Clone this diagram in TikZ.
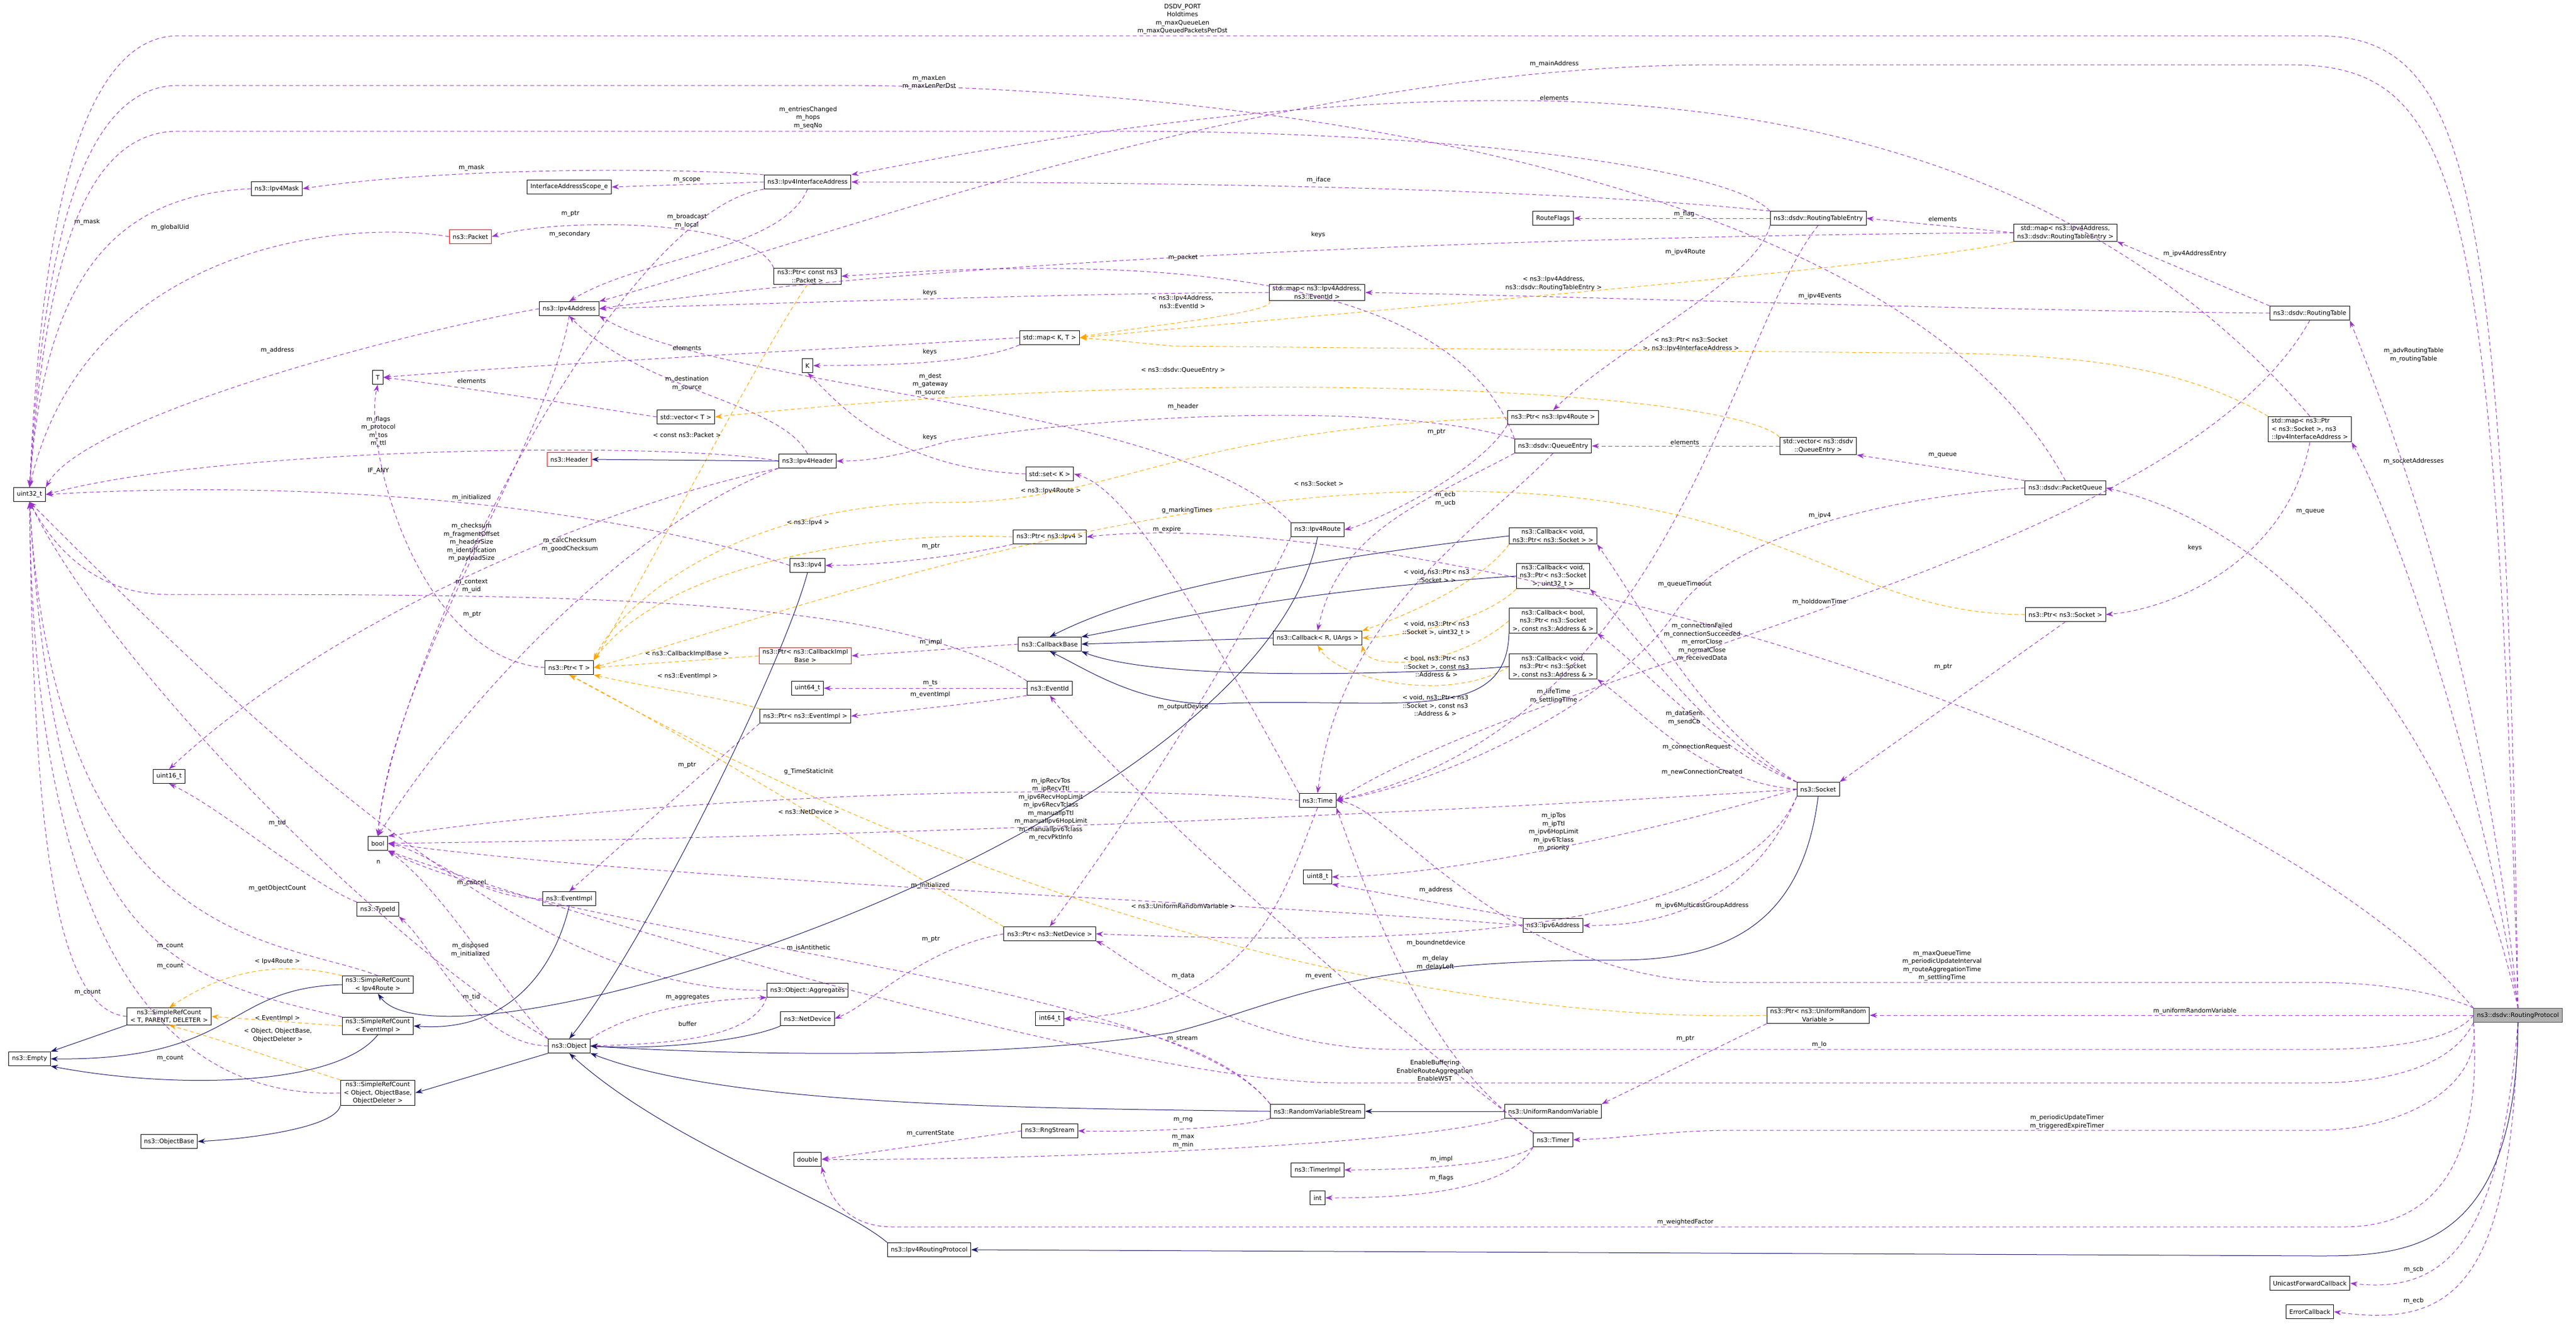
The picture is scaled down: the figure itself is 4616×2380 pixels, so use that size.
\documentclass[tikz,border=0pt]{standalone}
\usepackage{fontspec}
\setmainfont{DejaVu Sans}
\usetikzlibrary{arrows.meta}
\definecolor{ucol}{HTML}{9A32CD}
\definecolor{icol}{HTML}{FFA500}
\definecolor{hcol}{HTML}{191970}
\newcommand{\nf}{\fontsize{11}{14.5}\selectfont}
\tikzset{
 cls/.style={draw=black,fill=white,font=\nf,align=center,inner xsep=6pt,inner ysep=3pt,minimum height=25pt,line width=1pt},
 redcls/.style={cls,draw=red},
 mem/.style={draw=ucol,dash pattern=on 7pt off 5pt,line width=1pt,-{Stealth[length=13pt,width=9pt]},ucol},
 inst/.style={draw=icol,dash pattern=on 7pt off 5pt,line width=1pt,-{Stealth[length=13pt,width=9pt]},icol},
 inh/.style={draw=hcol,line width=1pt,-{Stealth[length=13pt,width=9pt]},hcol},
 lbl/.style={font=\nf,align=center,inner sep=0pt}
}
\begin{document}
\begin{tikzpicture}[x=1pt,y=-1pt]
\useasboundingbox (0,0) rectangle (4616,2380);
% nodes
\node[cls] (uint) at (53,886) {uint32\_t};
\node[cls] (mask) at (496,338) {ns3::Ipv4Mask};
\node[cls] (scope) at (1020,335) {InterfaceAddressScope\_e};
\node[cls] (ifaddr) at (1447,326) {ns3::Ipv4InterfaceAddress};
\node[redcls] (packet) at (843,424) {ns3::Packet};
\node[cls] (ptrpkt) at (1447,495) {ns3::Ptr< const ns3\\::Packet >};
\node[cls] (addr) at (1020,553) {ns3::Ipv4Address};
\node[cls] (T) at (677,676) {T};
\node[cls] (K) at (1447,655) {K};
\node[cls] (vecT) at (1229,747) {std::vector< T >};
\node[redcls] (header) at (1020,823) {ns3::Header};
\node[cls] (ipv4hdr) at (1447,826) {ns3::Ipv4Header};
\node[cls] (ipv4) at (1447,1013) {ns3::Ipv4};
\node[cls] (ptrT) at (1020,1196) {ns3::Ptr< T >};
\node[redcls] (ptrcib) at (1443,1175) {ns3::Ptr< ns3::CallbackImpl\\Base >};
\node[cls] (flags) at (2783,391) {RouteFlags};
\node[cls] (mapev) at (2360,524) {std::map< ns3::Ipv4Address,\\ns3::EventId >};
\node[cls] (mapKT) at (1881,605) {std::map< K, T >};
\node[cls] (ptrroute) at (2783,748) {ns3::Ptr< ns3::Ipv4Route >};
\node[cls] (qentry) at (2783,799) {ns3::dsdv::QueueEntry};
\node[cls] (setK) at (1881,849) {std::set< K >};
\node[cls] (ptripv4) at (1881,962) {ns3::Ptr< ns3::Ipv4 >};
\node[cls] (route) at (2361,949) {ns3::Ipv4Route};
\node[cls] (cb1) at (2783,960) {ns3::Callback< void,\\ ns3::Ptr< ns3::Socket > >};
\node[cls] (cb2) at (2783,1032) {ns3::Callback< void,\\ns3::Ptr< ns3::Socket\\>, uint32\_t >};
\node[cls] (cb3) at (2783,1112) {ns3::Callback< bool,\\ns3::Ptr< ns3::Socket\\>, const ns3::Address \& >};
\node[cls] (cb4) at (2783,1194) {ns3::Callback< void,\\ns3::Ptr< ns3::Socket\\>, const ns3::Address \& >};
\node[cls] (cbbase) at (1881,1154) {ns3::CallbackBase};
\node[cls] (cbR) at (2361,1143) {ns3::Callback< R, UArgs >};
\node[cls] (rte) at (3258,391) {ns3::dsdv::RoutingTableEntry};
\node[cls] (maprte) at (3701,417) {std::map< ns3::Ipv4Address,\\ ns3::dsdv::RoutingTableEntry >};
\node[cls] (rtable) at (4139,561) {ns3::dsdv::RoutingTable};
\node[cls,align=left] (mapsock) at (4139,769) {std::map< ns3::Ptr\\< ns3::Socket >, ns3\\::Ipv4InterfaceAddress >};
\node[cls] (vecq) at (3258,799) {std::vector< ns3::dsdv\\::QueueEntry >};
\node[cls] (pq) at (3701,874) {ns3::dsdv::PacketQueue};
\node[cls] (ptrsock) at (3701,1101) {ns3::Ptr< ns3::Socket >};
\node[cls] (u64) at (1447,1233) {uint64\_t};
\node[cls] (ptrev) at (1443,1283) {ns3::Ptr< ns3::EventImpl >};
\node[cls] (u16) at (303,1391) {uint16\_t};
\node[cls] (bool) at (677,1511) {bool};
\node[cls] (evimpl) at (1020,1610) {ns3::EventImpl};
\node[cls] (typeid) at (677,1629) {ns3::TypeId};
\node[cls] (srcroute) at (677,1764) {ns3::SimpleRefCount\\< Ipv4Route >};
\node[cls] (srcT) at (303,1821) {ns3::SimpleRefCount\\< T, PARENT, DELETER >};
\node[cls] (srcev) at (677,1838) {ns3::SimpleRefCount\\< EventImpl >};
\node[cls] (empty) at (53,1897) {ns3::Empty};
\node[cls] (object) at (1020,1874) {ns3::Object};
\node[cls] (aggr) at (1447,1774) {ns3::Object::Aggregates};
\node[cls] (netdev) at (1447,1825) {ns3::NetDevice};
\node[cls] (srcobj) at (677,1958) {ns3::SimpleRefCount\\< Object, ObjectBase,\\ObjectDeleter >};
\node[cls] (objbase) at (303,2045) {ns3::ObjectBase};
\node[cls] (double) at (1447,2077) {double};
\node[cls] (evid) at (1881,1233) {ns3::EventId};
\node[cls] (time) at (2361,1434) {ns3::Time};
\node[cls] (u8) at (2361,1571) {uint8\_t};
\node[cls] (ipv6) at (2783,1658) {ns3::Ipv6Address};
\node[cls] (ptrnd) at (1881,1673) {ns3::Ptr< ns3::NetDevice >};
\node[cls] (i64) at (1881,1825) {int64\_t};
\node[cls] (rvs) at (2361,1991) {ns3::RandomVariableStream};
\node[cls] (urv) at (2783,1991) {ns3::UniformRandomVariable};
\node[cls] (rng) at (1881,2026) {ns3::RngStream};
\node[cls] (timer) at (2783,2042) {ns3::Timer};
\node[cls] (timerimpl) at (2361,2096) {ns3::TimerImpl};
\node[cls] (int) at (2361,2146) {int};
\node[cls] (ipv4rp) at (1665,2239) {ns3::Ipv4RoutingProtocol};
\node[cls] (socket) at (3258,1414) {ns3::Socket};
\node[cls] (ptrurv) at (3258,1819) {ns3::Ptr< ns3::UniformRandom\\Variable >};
\node[cls,fill=black!30,draw=black!70] (rp) at (4512,1819) {ns3::dsdv::RoutingProtocol};
\node[cls] (ufcb) at (4139,2299) {UnicastForwardCallback};
\node[cls] (errcb) at (4139,2350) {ErrorCallback};
% member edges
\draw[mem] (rp.north) .. controls (4490,300) and (4420,64) .. (4150,64) -- (320,64) .. controls (120,64) and (70,500) .. (uint.north);
\draw[mem] (pq.north) .. controls (3400,300) and (2200,153) .. (1500,153) -- (320,153) .. controls (130,153) and (75,500) .. (uint.north);
\draw[mem] (rte.north west) .. controls (3100,300) and (2600,235) .. (2000,235) -- (320,235) .. controls (140,235) and (80,500) .. (uint.north);
\draw[mem] (rp.north) .. controls (4470,300) and (4400,116) .. (4100,116) -- (3080,116) .. controls (2300,116) and (1500,420) .. (addr.north east);
\draw[mem] (mapsock.north) .. controls (3800,350) and (3300,180) .. (2700,180) .. controls (2200,180) and (1700,280) .. (ifaddr.north east);
\draw[mem] (rte.north west) .. controls (2900,350) and (2400,326) .. (ifaddr.east);
\draw[mem] (rte.west) -- (flags.east);
\draw[mem] (maprte.west) .. controls (3000,420) and (1800,450) .. (addr.east);
\draw[mem] (maprte.west) -- (rte.east);
\draw[mem] (qentry.north west) .. controls (2600,470) and (2000,460) .. (ptrpkt.east);
\draw[mem] (mapev.west) .. controls (2000,524) and (1500,540) .. (addr.east);
\draw[mem] (mapKT.west) .. controls (1500,625) and (1000,650) .. (T.east);
\draw[mem] (mapKT.south west) .. controls (1750,650) and (1600,655) .. (K.east);
\draw[mem] (qentry.north west) .. controls (2500,720) and (2000,740) .. (1700,790) .. controls (1600,820) and (1550,826) .. (ipv4hdr.east);
\draw[mem] (setK.west) .. controls (1600,840) and (1500,720) .. (K.south);
\draw[mem] (vecT.west) .. controls (1000,720) and (800,690) .. (T.east);
\draw[mem] (ipv4hdr.north) .. controls (1400,720) and (1150,700) .. (addr.south);
\draw[mem] (route.north west) .. controls (2100,720) and (1300,700) .. (addr.south east);
\draw[mem] (ipv4hdr.west) .. controls (1200,790) and (400,800) .. (uint.east);
\draw[mem] (ipv4.west) .. controls (1200,940) and (700,850) .. (uint.east);
\draw[mem] (ipv4hdr.south west) .. controls (1100,950) and (800,1300) .. (bool.north);
\draw[mem] (ipv4hdr.south west) .. controls (1100,900) and (600,1100) .. (u16.north);
\draw[mem] (ifaddr.south) .. controls (1400,450) and (1150,460) .. (addr.north);
\draw[mem] (ifaddr.north west) .. controls (1200,300) and (800,300) .. (mask.east);
\draw[mem] (mask.west) .. controls (200,350) and (80,500) .. (uint.north);
\draw[mem] (packet.west) .. controls (600,390) and (150,450) .. (uint.north);
\draw[mem] (ifaddr.west) -- (scope.east);
\draw[mem] (ifaddr.south west) .. controls (1100,380) and (700,1200) .. (bool.north);
\draw[mem] (ptrpkt.north west) .. controls (1350,390) and (1000,390) .. (packet.east);
\draw[mem] (addr.west) .. controls (700,600) and (150,750) .. (uint.north east);
\draw[mem] (addr.south) .. controls (980,800) and (700,1200) .. (bool.north);
\draw[mem] (ptrT.west) .. controls (750,1180) and (650,800) .. (T.south);
\draw[mem] (ptrroute.south west) .. controls (2650,850) and (2450,940) .. (route.east);
\draw[mem] (ptripv4.south west) .. controls (1750,990) and (1600,1013) .. (ipv4.east);
\draw[mem] (evid.north west) .. controls (1600,1065) and (1000,1065) .. (300,1065) .. controls (150,1065) and (80,950) .. (uint.south);
\draw[mem] (time.north west) .. controls (2100,1000) and (2000,870) .. (setK.east);
\draw[mem] (qentry.south) .. controls (2650,950) and (2400,1100) .. (time.north);
\draw[mem] (qentry.south west) .. controls (2550,900) and (2400,950) .. (cbR.north);
\draw[mem] (rp.north west) .. controls (4000,1300) and (2500,900) .. (ptripv4.east);
\draw[mem] (rtable.south) .. controls (3900,1000) and (2800,1180) .. (time.east);
\draw[mem] (ptrsock.south) -- (socket.north east);
\draw[mem] (mapsock.south) .. controls (4100,1000) and (3900,1090) .. (ptrsock.east);
\draw[mem] (rtable.north west) -- (maprte.south east);
\draw[mem] (rtable.west) .. controls (3500,555) and (2800,530) .. (mapev.east);
\draw[mem] (rp.north) .. controls (4450,1200) and (4300,800) .. (rtable.south east);
\draw[mem] (rp.north) .. controls (4450,1400) and (4300,950) .. (mapsock.south east);
\draw[mem] (rp.north) .. controls (4400,1300) and (4100,950) .. (pq.east);
\draw[mem] (pq.north west) -- (vecq.south east);
\draw[mem] (vecq.west) -- (qentry.east);
\draw[mem] (rte.south west) .. controls (3150,500) and (2900,620) .. (ptrroute.north);
\draw[mem] (pq.west) .. controls (3400,890) and (3100,950) .. (3000,1100) .. controls (2900,1250) and (2600,1400) .. (time.east);
\draw[mem] (rte.south) .. controls (3100,600) and (3000,1300) .. (time.east);
\draw[mem] (socket.north west) .. controls (3050,1300) and (2950,1100) .. (cb1.south east);
\draw[mem] (socket.north west) .. controls (3050,1320) and (2950,1150) .. (cb2.south east);
\draw[mem] (socket.north west) .. controls (3080,1350) and (2950,1200) .. (cb3.south east);
\draw[mem] (socket.west) .. controls (3050,1400) and (2950,1280) .. (cb4.south east);
\draw[mem] (socket.west) .. controls (2700,1450) and (1600,1500) .. (bool.east);
\draw[mem] (socket.west) .. controls (3000,1480) and (2600,1570) .. (u8.east);
\draw[mem] (socket.south west) .. controls (3150,1600) and (3000,1660) .. (ipv6.east);
\draw[mem] (ipv6.north west) -- (u8.south east);
\draw[mem] (ipv6.west) .. controls (2300,1620) and (1200,1580) .. (bool.east);
\draw[mem] (socket.south west) .. controls (3100,1700) and (2400,1690) .. (ptrnd.east);
\draw[mem] (ptrnd.west) .. controls (1650,1700) and (1560,1800) .. (netdev.east);
\draw[mem] (route.south west) .. controls (2200,1200) and (2000,1500) .. (ptrnd.north);
\draw[mem] (time.south) .. controls (2300,1600) and (2250,1810) .. (i64.east);
\draw[mem] (timer.north west) .. controls (2550,1900) and (2450,1600) .. (time.south east);
\draw[mem] (timer.north west) .. controls (2500,1850) and (2000,1400) .. (evid.south);
\draw[mem] (rvs.north west) .. controls (2200,1880) and (2000,1830) .. (i64.east);
\draw[mem] (rvs.north west) .. controls (2100,1750) and (1000,1680) .. (bool.south east);
\draw[mem] (rvs.south west) .. controls (2200,2025) and (2000,2028) .. (rng.east);
\draw[mem] (rng.west) -- (double.east);
\draw[mem] (urv.south west) .. controls (2500,2060) and (1700,2080) .. (double.east);
\draw[mem] (timer.south west) .. controls (2700,2090) and (2500,2096) .. (timerimpl.east);
\draw[mem] (timer.south west) .. controls (2700,2140) and (2500,2146) .. (int.east);
\draw[mem] (rp.south west) .. controls (4450,2100) and (4350,2198) .. (4200,2198) -- (1600,2198) .. controls (1500,2198) and (1480,2120) .. (double.south east);
\draw[mem] (rp.south west) .. controls (4400,1900) and (4300,1940) .. (4150,1940) -- (2400,1940) .. controls (2000,1940) and (900,1600) .. (bool.south east);
\draw[mem] (rp.south west) .. controls (4450,1950) and (4300,2025) .. (4150,2025) -- (3100,2025) .. controls (3000,2025) and (2900,2040) .. (timer.east);
\draw[mem] (rp.west) .. controls (4400,1860) and (4300,1880) .. (4150,1880) -- (2500,1880) .. controls (2200,1880) and (2000,1700) .. (ptrnd.south east);
\draw[mem] (rp.west) -- (ptrurv.east);
\draw[mem] (rp.north west) .. controls (4400,1790) and (4300,1760) .. (4150,1760) -- (3100,1760) .. controls (2700,1760) and (2500,1450) .. (time.east);
\draw[mem] (ptrurv.south west) -- (urv.north east);
\draw[mem] (rp.south) .. controls (4480,2200) and (4400,2320) .. (ufcb.east);
\draw[mem] (rp.south) .. controls (4500,2300) and (4400,2380) .. (errcb.east);
\draw[mem] (evimpl.west) .. controls (850,1610) and (780,1530) .. (bool.east);
\draw[mem] (ptrev.south west) -- (evimpl.north);
\draw[mem] (evid.west) -- (u64.east);
\draw[mem] (evid.south west) .. controls (1750,1260) and (1650,1270) .. (ptrev.east);
\draw[mem] (time.west) .. controls (1800,1390) and (1000,1450) .. (bool.north east);
\draw[mem] (object.north west) .. controls (900,1780) and (800,1600) .. (bool.south east);
\draw[mem] (object.west) .. controls (850,1870) and (780,1700) .. (typeid.south east);
\draw[mem] (typeid.north west) .. controls (550,1580) and (400,1450) .. (u16.south);
\draw[mem] (aggr.south west) .. controls (1350,1860) and (1200,1870) .. (object.east);
\draw[mem] (object.north east) .. controls (1150,1800) and (1300,1790) .. (aggr.south west);
\draw[mem] (aggr.west) .. controls (1000,1780) and (600,1450) .. (uint.south);
\draw[mem] (object.north west) .. controls (700,1700) and (200,1200) .. (uint.south);
\draw[mem] (srcroute.north) .. controls (500,1680) and (100,1700) .. (uint.south);
\draw[mem] (srcev.north west) .. controls (300,1750) and (100,1700) .. (uint.south);
\draw[mem] (srcT.west) .. controls (100,1810) and (60,1500) .. (uint.south);
\draw[mem] (srcobj.west) .. controls (300,1970) and (60,1700) .. (uint.south);
\draw[mem] (cbbase.west) -- (ptrcib.east);
% template instances
\draw[inst] (mapev.south west) .. controls (2300,560) and (2000,590) .. (mapKT.east);
\draw[inst] (maprte.south west) .. controls (3400,480) and (2400,560) .. (mapKT.east);
\draw[inst] (mapsock.north west) .. controls (3900,650) and (3700,632) .. (3400,632) -- (2100,620) .. controls (2050,615) and (2000,610) .. (mapKT.east);
\draw[inst] (vecq.north west) .. controls (3100,700) and (2200,650) .. (vecT.east);
\draw[inst] (ptrpkt.south) .. controls (1380,600) and (1120,1100) .. (ptrT.north east);
\draw[inst] (ptrroute.west) .. controls (2100,770) and (2000,900) .. (1700,900) .. controls (1300,900) and (1100,1100) .. (ptrT.north east);
\draw[inst] (ptripv4.west) .. controls (1600,950) and (1200,1000) .. (ptrT.north east);
\draw[inst] (ptrsock.west) .. controls (3300,1100) and (3200,880) .. (2600,880) .. controls (2000,880) and (1400,1100) .. (ptrT.east);
\draw[inst] (ptrcib.west) -- (ptrT.east);
\draw[inst] (ptrev.north west) .. controls (1300,1250) and (1150,1230) .. (ptrT.south east);
\draw[inst] (ptrnd.north west) .. controls (1600,1550) and (1200,1300) .. (ptrT.south);
\draw[inst] (ptrurv.west) .. controls (2800,1830) and (2000,1750) .. (ptrT.south);
\draw[inst] (cb1.south west) .. controls (2650,1050) and (2500,1110) .. (cbR.north east);
\draw[inst] (cb2.south west) .. controls (2650,1120) and (2500,1140) .. (cbR.east);
\draw[inst] (cb3.west) .. controls (2600,1200) and (2450,1200) .. (cbR.south east);
\draw[inst] (cb4.west) .. controls (2600,1260) and (2400,1220) .. (cbR.south);
\draw[inst] (srcroute.north west) .. controls (500,1720) and (400,1740) .. (srcT.north);
\draw[inst] (srcev.west) -- (srcT.east);
\draw[inst] (srcobj.north west) .. controls (500,1900) and (420,1870) .. (srcT.south);
% inheritance
\draw[inh] (ipv4hdr.west) -- (header.east);
\draw[inh] (cb1.west) .. controls (2200,1020) and (2000,1080) .. (cbbase.north);
\draw[inh] (cb2.west) .. controls (2300,1060) and (2100,1110) .. (cbbase.north east);
\draw[inh] (cbR.west) -- (cbbase.east);
\draw[inh] (cb3.south west) .. controls (2700,1300) and (2500,1250) .. (2200,1260) .. controls (2050,1270) and (1950,1200) .. (cbbase.south);
\draw[inh] (cb4.west) .. controls (2650,1200) and (2100,1230) .. (cbbase.south east);
\draw[inh] (ipv4.south) .. controls (1400,1200) and (1150,1700) .. (object.north);
\draw[inh] (route.south) .. controls (2250,1500) and (800,1950) .. (srcroute.south);
\draw[inh] (evimpl.south) .. controls (990,1750) and (900,1850) .. (srcev.east);
\draw[inh] (srcT.south west) -- (empty.north east);
\draw[inh] (srcroute.west) .. controls (400,1770) and (430,1900) .. (empty.east);
\draw[inh] (srcev.south) .. controls (600,1950) and (300,1950) .. (empty.south east);
\draw[inh] (srcobj.south west) .. controls (600,2020) and (450,2040) .. (objbase.east);
\draw[inh] (object.south west) -- (srcobj.east);
\draw[inh] (netdev.south west) .. controls (1350,1860) and (1200,1882) .. (object.east);
\draw[inh] (socket.south) .. controls (3230,1650) and (3100,1720) .. (2900,1720) .. controls (2400,1720) and (2300,1800) .. (2100,1850) .. controls (1800,1900) and (1300,1890) .. (object.east);
\draw[inh] (rvs.west) .. controls (1800,1985) and (1300,1980) .. (object.south east);
\draw[inh] (urv.west) -- (rvs.east);
\draw[inh] (ipv4rp.north west) .. controls (1500,2150) and (1200,2050) .. (object.south);
\draw[inh] (rp.south) .. controls (4510,2250) and (4300,2250) .. (4150,2250) -- (ipv4rp.east);
% labels
\node[lbl] (l1) at (2119,34) {DSDV\_PORT\\Holdtimes\\m\_maxQueueLen\\m\_maxQueuedPacketsPerDst};
\node[lbl] (l2) at (1665,148) {m\_maxLen\\m\_maxLenPerDst};
\node[lbl] (l3) at (1448,211) {m\_entriesChanged\\m\_hops\\m\_seqNo};
\node[lbl] (l4) at (2785,115) {m\_mainAddress};
\node[lbl] (l5) at (2785,175) {elements};
\node[lbl] (l6) at (2363,323) {m\_iface};
\node[lbl] (l7) at (3018,384) {m\_flag};
\node[lbl] (l8) at (2362,420) {keys};
\node[lbl] (l9) at (3481,392) {elements};
\node[lbl] (l10) at (2120,462) {m\_packet};
\node[lbl] (l11) at (1666,524) {keys};
\node[lbl] (l12) at (1231,623) {elements};
\node[lbl] (l13) at (1666,630) {keys};
\node[lbl] (l14) at (2120,729) {m\_header};
\node[lbl] (l15) at (1666,783) {keys};
\node[lbl] (l16) at (845,682) {elements};
\node[lbl] (l17) at (1231,687) {m\_destination\\m\_source};
\node[lbl] (l18) at (1667,689) {m\_dest\\m\_gateway\\m\_source};
\node[lbl] (l19) at (678,773) {m\_flags\\m\_protocol\\m\_tos\\m\_ttl};
\node[lbl] (l20) at (678,844) {IF\_ANY};
\node[lbl] (l21) at (1021,976) {m\_calcChecksum\\m\_goodChecksum};
\node[lbl] (l22) at (845,972) {m\_checksum\\m\_fragmentOffset\\m\_headerSize\\m\_identification\\m\_payloadSize};
\node[lbl] (l23) at (1231,396) {m\_broadcast\\m\_local};
\node[lbl] (l24) at (845,301) {m\_mask};
\node[lbl] (l25) at (156,398) {m\_mask};
\node[lbl] (l26) at (305,408) {m\_globalUid};
\node[lbl] (l27) at (1231,323) {m\_scope};
\node[lbl] (l28) at (1021,420) {m\_secondary};
\node[lbl] (l29) at (1022,383) {m\_ptr};
\node[lbl] (l30) at (497,628) {m\_address};
\node[lbl] (l31) at (846,1101) {m\_ptr};
\node[lbl] (l32) at (2574,774) {m\_ptr};
\node[lbl] (l33) at (1668,979) {m\_ptr};
\node[lbl] (l34) at (845,1050) {m\_context\\m\_uid};
\node[lbl] (l35) at (2127,915) {g\_markingTimes};
\node[lbl] (l36) at (2091,949) {m\_expire};
\node[lbl] (l37) at (2590,894) {m\_ecb\\m\_ucb};
\node[lbl] (l38) at (3261,924) {m\_ipv4};
\node[lbl] (l39) at (3260,1079) {m\_holddownTime};
\node[lbl] (l40) at (3482,1195) {m\_ptr};
\node[lbl] (l41) at (3933,981) {keys};
\node[lbl] (l42) at (3933,455) {m\_ipv4AddressEntry};
\node[lbl] (l43) at (3261,531) {m\_ipv4Events};
\node[lbl] (l44) at (4325,636) {m\_advRoutingTable\\m\_routingTable};
\node[lbl] (l45) at (4325,827) {m\_socketAddresses};
\node[lbl] (l46) at (4140,917) {m\_queue};
\node[lbl] (l47) at (3481,816) {m\_queue};
\node[lbl] (l48) at (3019,792) {elements};
\node[lbl] (l49) at (3020,452) {m\_ipv4Route};
\node[lbl] (l50) at (3019,1047) {m\_queueTimeout};
\node[lbl] (l51) at (2784,1247) {m\_lifeTime\\m\_settlingTime};
\node[lbl] (l52) at (3050,1151) {m\_connectionFailed\\m\_connectionSucceeded\\m\_errorClose\\m\_normalClose\\m\_receivedData};
\node[lbl] (l53) at (3018,1286) {m\_dataSent\\m\_sendCb};
\node[lbl] (l54) at (3040,1339) {m\_connectionRequest};
\node[lbl] (l55) at (3050,1384) {m\_newConnectionCreated};
\node[lbl] (l56) at (1883,1450) {m\_ipRecvTos\\m\_ipRecvTtl\\m\_ipv6RecvHopLimit\\m\_ipv6RecvTclass\\m\_manualIpTtl\\m\_manualIpv6HopLimit\\m\_manualIpv6Tclass\\m\_recvPktInfo};
\node[lbl] (l57) at (2784,1491) {m\_ipTos\\m\_ipTtl\\m\_ipv6HopLimit\\m\_ipv6Tclass\\m\_priority};
\node[lbl] (l58) at (3050,1623) {m\_ipv6MulticastGroupAddress};
\node[lbl] (l59) at (2573,1595) {m\_address};
\node[lbl] (l60) at (2573,1690) {m\_boundnetdevice};
\node[lbl] (l61) at (1668,1683) {m\_ptr};
\node[lbl] (l62) at (2120,1267) {m\_outputDevice};
\node[lbl] (l63) at (2120,1749) {m\_data};
\node[lbl] (l64) at (2572,1725) {m\_delay\\m\_delayLeft};
\node[lbl] (l65) at (2363,1749) {m\_event};
\node[lbl] (l66) at (2119,1861) {m\_stream};
\node[lbl] (l67) at (1449,1699) {m\_isAntithetic};
\node[lbl] (l68) at (2120,2007) {m\_rng};
\node[lbl] (l69) at (1667,2031) {m\_currentState};
\node[lbl] (l70) at (2120,2045) {m\_max\\m\_min};
\node[lbl] (l71) at (2583,2077) {m\_impl};
\node[lbl] (l72) at (2583,2111) {m\_flags};
\node[lbl] (l73) at (3020,2190) {m\_weightedFactor};
\node[lbl] (l74) at (2571,1918) {EnableBuffering\\EnableRouteAggregation\\EnableWST};
\node[lbl] (l75) at (3704,2010) {m\_periodicUpdateTimer\\m\_triggeredExpireTimer};
\node[lbl] (l76) at (3260,1872) {m\_lo};
\node[lbl] (l77) at (3933,1812) {m\_uniformRandomVariable};
\node[lbl] (l78) at (3480,1730) {m\_maxQueueTime\\m\_periodicUpdateInterval\\m\_routeAggregationTime\\m\_settlingTime};
\node[lbl] (l79) at (3020,1861) {m\_ptr};
\node[lbl] (l80) at (4325,2275) {m\_scb};
\node[lbl] (l81) at (4325,2331) {m\_ecb};
\node[lbl] (l82) at (845,1582) {m\_cancel};
\node[lbl] (l83) at (1231,1371) {m\_ptr};
\node[lbl] (l84) at (1667,1224) {m\_ts};
\node[lbl] (l85) at (1667,1245) {m\_eventImpl};
\node[lbl] (l86) at (1449,1383) {g\_TimeStaticInit};
\node[lbl] (l87) at (843,1702) {m\_disposed\\m\_initialized};
\node[lbl] (l88) at (845,1787) {m\_tid};
\node[lbl] (l89) at (497,1475) {m\_tid};
\node[lbl] (l90) at (1232,1834) {buffer};
\node[lbl] (l91) at (1232,1787) {m\_aggregates};
\node[lbl] (l92) at (678,1544) {n};
\node[lbl] (l93) at (497,1592) {m\_getObjectCount};
\node[lbl] (l94) at (305,1695) {m\_count};
\node[lbl] (l95) at (305,1731) {m\_count};
\node[lbl] (l96) at (157,1778) {m\_count};
\node[lbl] (l97) at (305,1896) {m\_count};
\node[lbl] (l98) at (1667,1587) {m\_initialized};
\node[lbl] (l99) at (845,892) {m\_initialized};
\node[lbl] (l100) at (1668,1151) {m\_impl};
\node[lbl] (t1) at (2119,541) {< ns3::Ipv4Address,\\ns3::EventId >};
\node[lbl] (t2) at (2784,508) {< ns3::Ipv4Address,\\ns3::dsdv::RoutingTableEntry >};
\node[lbl] (t3) at (3030,617) {< ns3::Ptr< ns3::Socket\\>, ns3::Ipv4InterfaceAddress >};
\node[lbl] (t4) at (2120,663) {< ns3::dsdv::QueueEntry >};
\node[lbl] (t5) at (1231,779) {< const ns3::Packet >};
\node[lbl] (t6) at (1883,880) {< ns3::Ipv4Route >};
\node[lbl] (t7) at (1448,937) {< ns3::Ipv4 >};
\node[lbl] (t8) at (2363,866) {< ns3::Socket >};
\node[lbl] (t9) at (1231,1171) {< ns3::CallbackImplBase >};
\node[lbl] (t10) at (1232,1211) {< ns3::EventImpl >};
\node[lbl] (t11) at (1449,1454) {< ns3::NetDevice >};
\node[lbl] (t12) at (2120,1623) {< ns3::UniformRandomVariable >};
\node[lbl] (t13) at (2574,1032) {< void, ns3::Ptr< ns3\\::Socket > >};
\node[lbl] (t14) at (2574,1126) {< void, ns3::Ptr< ns3\\::Socket >, uint32\_t >};
\node[lbl] (t15) at (2574,1194) {< bool, ns3::Ptr< ns3\\::Socket >, const ns3\\::Address \& >};
\node[lbl] (t16) at (2572,1264) {< void, ns3::Ptr< ns3\\::Socket >, const ns3\\::Address \& >};
\node[lbl] (t17) at (497,1723) {< Ipv4Route >};
\node[lbl] (t18) at (497,1824) {< EventImpl >};
\node[lbl] (t19) at (498,1855) {< Object, ObjectBase,\\ObjectDeleter >};
\end{tikzpicture}
\end{document}
